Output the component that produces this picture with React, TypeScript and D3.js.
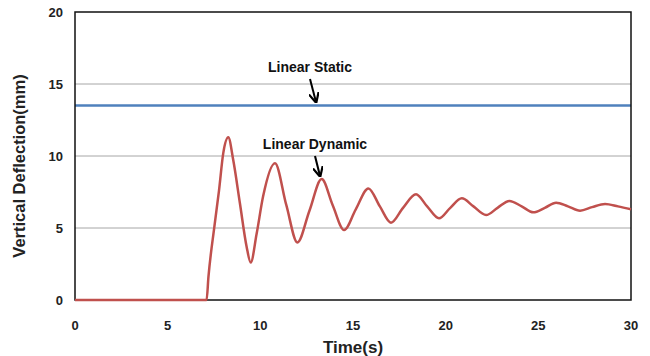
import React from "react";
import * as d3 from "d3";

const xTicks = [0, 5, 10, 15, 20, 25, 30];
const yTicks = [0, 5, 10, 15, 20];
const staticValue = 13.5;
const dynTime = [0, 7.1, 7.2, 7.52, 7.77, 8.0, 8.27, 8.54, 8.9, 9.26, 9.48, 9.8, 10.15, 10.79, 11.4, 12.0, 12.65, 13.31, 13.9, 14.52, 15.15, 15.83, 16.45, 17.05, 17.7, 18.4, 19.0, 19.64, 20.25, 20.87, 21.5, 22.18, 22.8, 23.44, 24.1, 24.73, 25.35, 25.96, 26.6, 27.25, 27.9, 28.6, 29.3, 30];
const dynValue = [0, 0, 1.6, 5.1, 7.6, 10.2, 11.3, 9.7, 6.7, 3.7, 2.6, 4.6, 7.2, 9.5, 6.6, 4.0, 6.2, 8.4, 6.6, 4.86, 6.3, 7.75, 6.5, 5.37, 6.4, 7.34, 6.5, 5.67, 6.4, 7.06, 6.5, 5.9, 6.4, 6.88, 6.5, 6.09, 6.4, 6.76, 6.5, 6.2, 6.45, 6.67, 6.5, 6.3];

const W = 650, H = 356;
const L = 75, R = 631, T = 12, B = 300;
const font = "'Liberation Sans', Arial, sans-serif";

export default function App() {
  const x = d3.scaleLinear().domain([0, 30]).range([L, R]);
  const y = d3.scaleLinear().domain([0, 20]).range([B, T]);
  const pts: [number, number][] = dynTime.map((t, i) => [t, dynValue[i]]);
  const line = d3.line<[number, number]>().x(d => x(d[0])).y(d => y(d[1])).curve(d3.curveMonotoneX);
  return (
    <svg width={W} height={H} style={{ position: "absolute", left: 0, top: 0, background: "#fff" }}>
      <defs>
        <marker id="ah" viewBox="0 0 10 10" refX="9" refY="5" markerWidth="5" markerHeight="5" orient="auto-start-reverse">
          <path d="M0,0 L10,5 L0,10" fill="none" stroke="#000" strokeWidth="2.2" />
        </marker>
      </defs>
      {yTicks.filter(v => v > 0 && v < 20).map(v => (
        <line key={v} x1={L} x2={R} y1={y(v)} y2={y(v)} stroke="#a6a6a6" strokeWidth={1} />
      ))}
      <line x1={L} x2={R} y1={y(staticValue)} y2={y(staticValue)} stroke="#4f81bd" strokeWidth={2.5} />
      <rect x={L} y={T} width={R - L} height={B - T} fill="none" stroke="#111" strokeWidth={1.5} />
      <path d={line(pts) || ""} fill="none" stroke="#c0504d" strokeWidth={2.5} strokeLinejoin="round" />
      {yTicks.map(v => (
        <text key={v} x={63} y={y(v)} dy="0.35em" textAnchor="end" fontFamily={font} fontWeight="bold" fontSize={13} fill="#222">{v}</text>
      ))}
      {xTicks.map(v => (
        <text key={v} x={x(v)} y={325} dy="0.35em" textAnchor="middle" fontFamily={font} fontWeight="bold" fontSize={13} fill="#222">{v}</text>
      ))}
      <text x={353} y={353} textAnchor="middle" fontFamily={font} fontWeight="bold" fontSize={17} fill="#222">Time(s)</text>
      <text transform={`translate(25,166) rotate(-90)`} textAnchor="middle" fontFamily={font} fontWeight="bold" fontSize={16.5} fill="#222">Vertical Deflection(mm)</text>
      <text x={310} y={67} dy="0.35em" textAnchor="middle" fontFamily={font} fontWeight="bold" fontSize={14} fill="#111">Linear Static</text>
      <line x1={310} y1={79} x2={316} y2={102} stroke="#000" strokeWidth={2} markerEnd="url(#ah)" />
      <text x={315} y={144} dy="0.35em" textAnchor="middle" fontFamily={font} fontWeight="bold" fontSize={14} fill="#111">Linear Dynamic</text>
      <line x1={315} y1={156} x2={320} y2={176} stroke="#000" strokeWidth={2} markerEnd="url(#ah)" />
    </svg>
  );
}
